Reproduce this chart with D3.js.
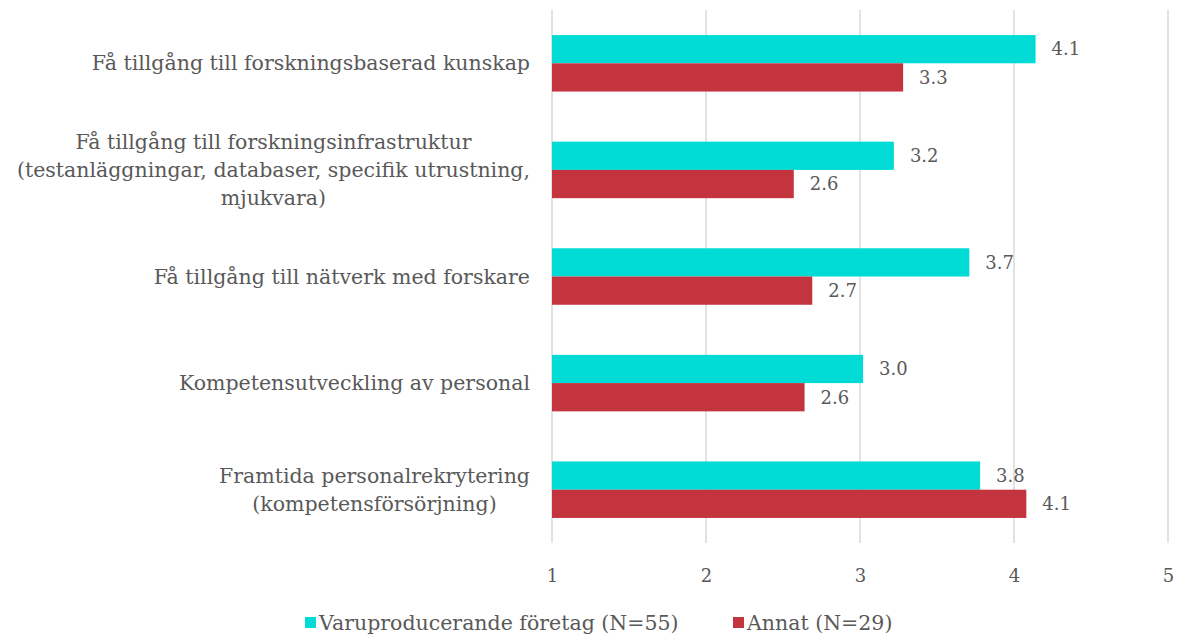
<!DOCTYPE html>
<html>
<head>
<meta charset="utf-8">
<script src="https://cdn.jsdelivr.net/npm/d3@7"></script>
<style>
  body { margin: 0; background: #fff; overflow: hidden; }
  svg { display: block; }
  text { font-family: "DejaVu Serif", serif; fill: #595959; }
</style>
</head>
<body>
<svg id="chart"></svg>
<script>
// Chart data
const categories = [
  ['Få tillgång till forskningsbaserad kunskap'],
  ['Få tillgång till forskningsinfrastruktur', '(testanläggningar, databaser, specifik utrustning,', 'mjukvara)'],
  ['Få tillgång till nätverk med forskare'],
  ['Kompetensutveckling av personal'],
  ['Framtida personalrekrytering', '(kompetensförsörjning)']
];
const seriesNames = ['Varuproducerande företag (N=55)', 'Annat (N=29)'];
const varuValues = [4.14, 3.22, 3.71, 3.02, 3.78];
const annatValues = [3.28, 2.57, 2.69, 2.64, 4.08];
const xTicks = [1, 2, 3, 4, 5];
const colors = ['#00DCD5', '#C3343F'];

const width = 1180, height = 639;
const margin = { top: 10, right: 12, bottom: 96, left: 552 };
const innerWidth = width - margin.left - margin.right;
const innerHeight = height - margin.top - margin.bottom;

const svg = d3.select('#chart').attr('width', width).attr('height', height);

const x = d3.scaleLinear().domain([1, 5]).range([0, innerWidth]);
const y = d3.scaleBand().domain(d3.range(categories.length)).range([0, innerHeight]).paddingInner(0.47).paddingOuter(0.235);
const ySub = d3.scaleBand().domain([0, 1]).range([0, y.bandwidth()]);

const g = svg.append('g').attr('transform', `translate(${margin.left},${margin.top})`);

// Gridlines
g.append('g')
  .selectAll('line')
  .data(xTicks)
  .enter().append('line')
    .attr('x1', d => x(d)).attr('x2', d => x(d))
    .attr('y1', 0).attr('y2', innerHeight)
    .style('stroke', '#D9D9D9')
    .style('stroke-width', 1.5);

// X axis tick labels
const xAxis = g.append('g')
  .attr('transform', `translate(0,${innerHeight})`)
  .call(d3.axisBottom(x).tickValues(xTicks).tickSize(0).tickPadding(26).tickFormat(d3.format('d')));
xAxis.select('.domain').remove();
xAxis.selectAll('text').style('font-size', '18px').style('font-family', '"DejaVu Serif", serif').style('fill', '#595959');

// Bars and value labels
const seriesData = [varuValues, annatValues];
seriesData.forEach((vals, s) => {
  g.append('g').selectAll('rect')
    .data(vals)
    .enter().append('rect')
      .attr('x', x(1))
      .attr('y', (d, i) => y(i) + ySub(s))
      .attr('width', d => x(d) - x(1))
      .attr('height', ySub.bandwidth())
      .style('fill', colors[s]);

  g.append('g').selectAll('text')
    .data(vals)
    .enter().append('text')
      .attr('x', d => x(d) + 16)
      .attr('y', (d, i) => y(i) + ySub(s) + ySub.bandwidth() / 2)
      .attr('dy', '0.35em')
      .style('font-size', '18px')
      .text(d => d.toFixed(1));
});

// Category labels (wrapped, centered block, right-aligned to axis)
const labelRight = -22;
categories.forEach((lines, i) => {
  const grp = g.append('g');
  const lineH = 28;
  const cy = y(i) + y.bandwidth() / 2;
  const texts = lines.map((t, k) => grp.append('text')
    .attr('y', cy + (k - (lines.length - 1) / 2) * lineH)
    .attr('dy', '0.35em')
    .attr('text-anchor', 'middle')
    .style('font-size', '20.5px')
    .text(t));
  const maxW = d3.max(texts, t => t.node().getComputedTextLength());
  texts.forEach(t => t.attr('x', labelRight - maxW / 2));
});

// Legend
const legend = svg.append('g').attr('transform', `translate(0,${height - 16})`);
const legendX = [305, 733];
seriesNames.forEach((name, s) => {
  legend.append('rect')
    .attr('x', legendX[s]).attr('y', -6)
    .attr('width', 11).attr('height', 11)
    .style('fill', colors[s]);
  legend.append('text')
    .attr('x', legendX[s] + 14)
    .attr('y', 0)
    .attr('dy', '0.35em')
    .style('font-size', '20.5px')
    .text(name);
});
</script>
</body>
</html>
